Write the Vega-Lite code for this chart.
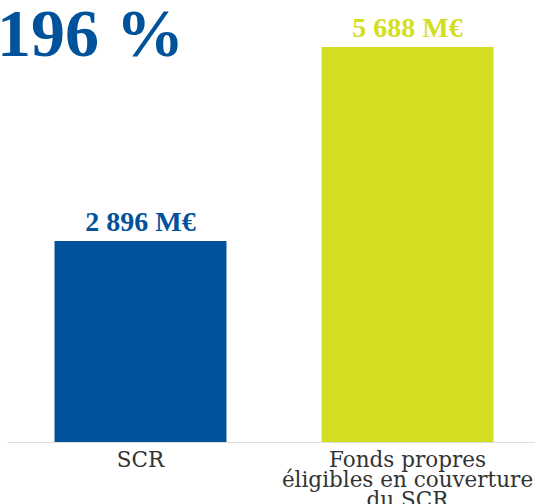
{
  "$schema": "https://vega.github.io/schema/vega-lite/v6.json",
  "autosize": "none",
  "width": 534,
  "height": 395,
  "padding": {"left": 7, "top": 47, "right": 0, "bottom": 62},
  "background": "white",
  "title": {
    "text": "196 %",
    "anchor": "start",
    "font": "Liberation Serif",
    "fontSize": 68,
    "fontWeight": "bold",
    "color": "#00529B",
    "baseline": "alphabetic",
    "dx": -10,
    "dy": 109,
    "offset": 0
  },
  "data": {
    "values": [
      {"category": "SCR", "value": 2896, "label": "2 896 M€"},
      {"category": "Fonds propres|éligibles en couverture|du SCR", "value": 5688, "label": "5 688 M€"}
    ]
  },
  "encoding": {
    "x": {
      "field": "category",
      "type": "nominal",
      "sort": null,
      "scale": {"paddingInner": 0.356, "paddingOuter": 0.178},
      "axis": {
        "title": null,
        "labelAngle": 0,
        "labelExpr": "split(datum.label, '|')",
        "labelFont": "DejaVu Serif",
        "labelFontSize": 21.5,
        "labelLineHeight": 20,
        "labelColor": "#333333",
        "labelPadding": 7,
        "ticks": false,
        "domainColor": "#dddddd",
        "domainWidth": 1,
        "labelLimit": 400
      }
    },
    "y": {
      "field": "value",
      "type": "quantitative",
      "scale": {"domain": [0, 5688], "nice": false},
      "axis": null
    },
    "color": {
      "field": "category",
      "type": "nominal",
      "sort": null,
      "scale": {"range": ["#00529B", "#D4DE21"]},
      "legend": null
    }
  },
  "layer": [
    {"mark": {"type": "bar"}},
    {
      "mark": {
        "type": "text",
        "baseline": "alphabetic",
        "dy": -10,
        "font": "Liberation Serif",
        "fontSize": 28,
        "fontWeight": "bold"
      },
      "encoding": {"text": {"field": "label"}}
    }
  ],
  "config": {"view": {"stroke": null}}
}
